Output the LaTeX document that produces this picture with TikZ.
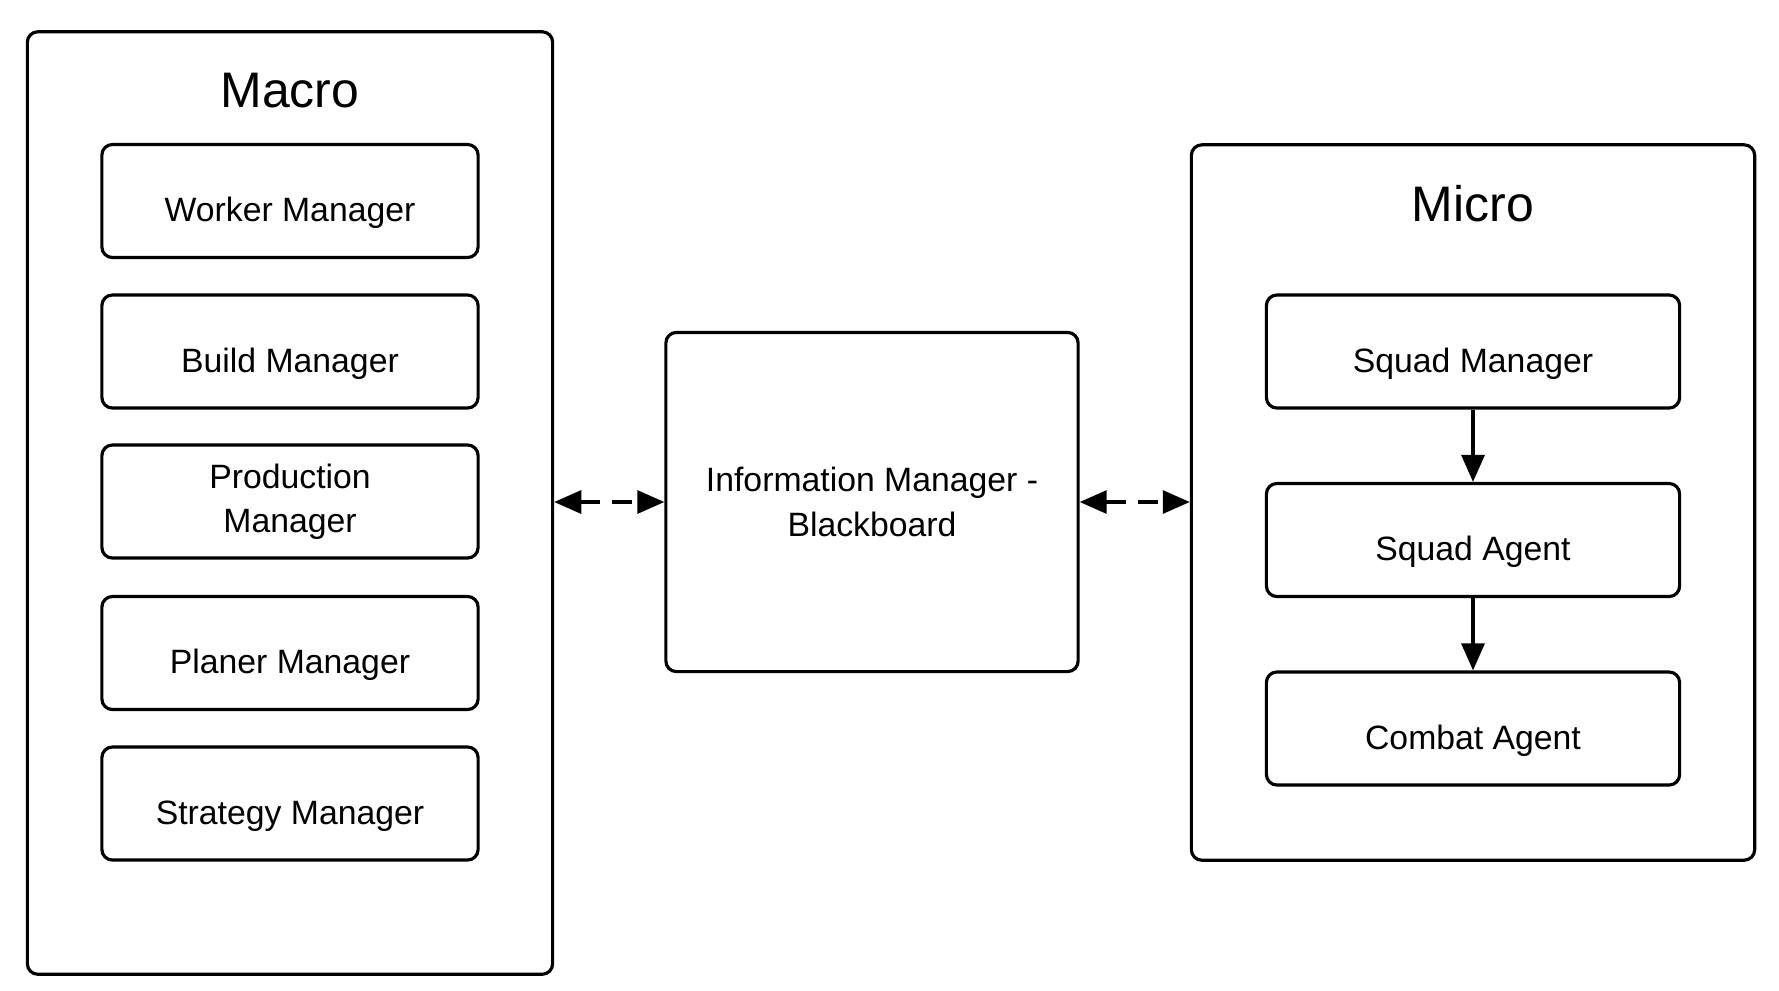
\documentclass[tikz,border=0pt]{standalone}
\usepackage{fontspec}
\setmainfont{Liberation Sans}
\usetikzlibrary{arrows.meta, positioning}

\tikzset{
    frame/.style={draw, line width=0.9pt, rounded corners=3pt},
    box/.style={frame, minimum width=3.76cm, minimum height=1.13cm, align=center, font=\fontsize{9.6}{12.6}\selectfont},
    oneline/.style={text height=0.48cm, text depth=0.07cm},
    sbox/.style={box, oneline, minimum width=4.13cm},
    title/.style={font=\fontsize{14.2}{17}\selectfont},
    link/.style={line width=0.9pt, dash pattern=on 0.2cm off 0.12cm, {Triangle[length=0.27cm, width=0.23cm]}-{Triangle[length=0.27cm, width=0.23cm]}},
    flow/.style={line width=0.9pt, -{Triangle[length=0.27cm, width=0.23cm]}}
}

\begin{document}
\begin{tikzpicture}[x=0.01cm, y=-0.01cm]
    \useasboundingbox (0,0) rectangle (1779,990);

    % Macro side
    \node[frame, minimum width=5.25cm, minimum height=9.42cm] (macro) at (290,503) {};
    \node[title] (macrotitle) at (290,91) {Macro};
    \node[box, oneline] (worker) at (290,201) {Worker Manager};
    \node[box, oneline] (build) at (290,351.5) {Build Manager};
    \node[box] (production) at (290,501.5) {Production\\Manager};
    \node[box, oneline] (planer) at (290,653) {Planer Manager};
    \node[box, oneline] (strategy) at (290,803.5) {Strategy Manager};

    % Blackboard
    \node[frame, minimum width=4.12cm, minimum height=3.39cm, align=center,
        font=\fontsize{9.6}{12.6}\selectfont] (info) at (872,502) {Information Manager -\\Blackboard};

    % Micro side
    \node[frame, minimum width=5.63cm, minimum height=7.15cm] (micro) at (1473,502.5) {};
    \node[title] (microtitle) at (1473,204) {Micro};
    \node[sbox] (squadmgr) at (1473,351.5) {Squad Manager};
    \node[sbox] (squadagent) at (1473,540) {Squad Agent};
    \node[sbox] (combat) at (1473,728.5) {Combat Agent};

    % Connections
    \draw[link] (macro.east |- info.west) -- (info.west);
    \draw[link] (info.east) -- (info.east -| micro.west);
    \draw[flow] (squadmgr) -- (squadagent);
    \draw[flow] (squadagent) -- (combat);
\end{tikzpicture}
\end{document}
